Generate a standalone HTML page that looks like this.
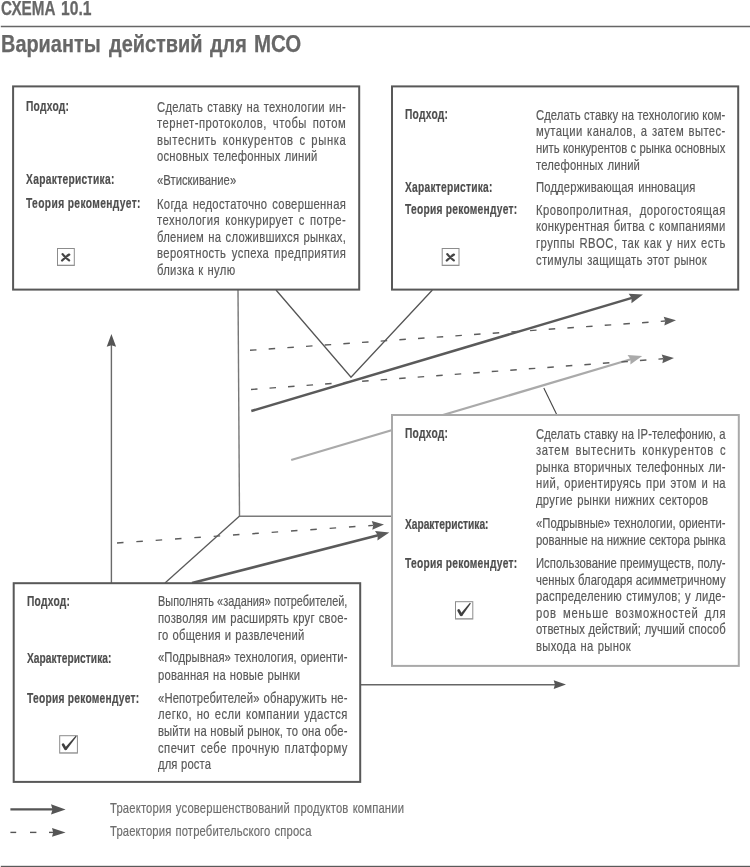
<!DOCTYPE html>
<html><head><meta charset="utf-8"><style>
html,body{margin:0;padding:0;background:#fff;}
body{width:750px;height:867px;position:relative;overflow:hidden;font-family:"Liberation Sans",sans-serif;}
.t{position:absolute;white-space:nowrap;font-size:15px;line-height:16px;color:#595959;transform-origin:0 0;-webkit-text-stroke:0.2px currentColor;}
.b{font-weight:bold;color:#4e4e4e;-webkit-text-stroke:0.2px currentColor;}
#tx{position:absolute;left:0;top:0;width:750px;height:867px;filter:grayscale(1);}
.h1{position:absolute;font-weight:bold;color:#676767;white-space:nowrap;transform-origin:0 0;line-height:normal;-webkit-text-stroke:0.25px currentColor;}
</style></head><body>
<svg width="750" height="867" viewBox="0 0 750 867" style="position:absolute;left:0;top:0"><line x1="0.8" y1="26.5" x2="750" y2="26.5" stroke="#666" stroke-width="1.3"/>
<rect x="0.8" y="865.8" width="750" height="1.2" fill="#5a5a5a"/>
<line x1="238.0" y1="290" x2="239.5" y2="516.3" stroke="#777" stroke-width="1.4"/>
<line x1="239.5" y1="516.3" x2="392" y2="516.3" stroke="#7a7a7a" stroke-width="1.4"/>
<line x1="239.6" y1="516" x2="165" y2="583" stroke="#5a5a5a" stroke-width="1.3"/>
<polyline points="276,290 351,377.2 432.4,290" stroke="#555" stroke-width="1.3" fill="none"/>
<line x1="111.4" y1="583" x2="111.4" y2="344" stroke="#6a6a6a" stroke-width="1.4"/>
<path d="M111.40,334.00 L116.10,346.70 L111.40,345.20 L106.70,346.70 Z" fill="#555"/>
<line x1="543.8" y1="388" x2="556.7" y2="414.5" stroke="#444" stroke-width="1.1"/>
<line x1="291.2" y1="460" x2="630.89" y2="359.26" stroke="#aaa" stroke-width="2.3"/><path d="M642.20,355.90 L630.39,364.62 L630.50,359.37 L627.55,355.03 Z" fill="#aaa"/>
<line x1="251.3" y1="411" x2="631.98" y2="297.88" stroke="#5a5a5a" stroke-width="2.5"/><path d="M643.00,294.60 L631.46,303.14 L631.59,297.99 L628.66,293.75 Z" fill="#5a5a5a"/>
<line x1="192" y1="583" x2="378.16" y2="535.26" stroke="#5a5a5a" stroke-width="2.5"/><path d="M389.30,532.40 L377.44,540.50 L377.77,535.36 L375.01,531.01 Z" fill="#5a5a5a"/>
<line x1="360" y1="684.7" x2="556" y2="684.7" stroke="#666" stroke-width="1.4"/>
<path d="M566.00,684.60 L553.70,689.00 L554.90,684.60 L553.70,680.20 Z" fill="#555"/>
<path d="M250.00,350.30L256.50,349.84M268.67,348.99L275.17,348.53M287.34,347.67L293.84,347.21M306.01,346.36L312.51,345.90M324.68,345.04L331.18,344.58M343.35,343.73L349.85,343.27M362.02,342.41L368.52,341.95M380.69,341.10L387.19,340.64M399.36,339.78L405.86,339.32M418.03,338.47L424.53,338.01M436.70,337.15L443.20,336.69M455.37,335.84L461.87,335.38M474.04,334.52L480.54,334.06M492.71,333.21L499.21,332.75M511.38,331.89L517.88,331.44M530.05,330.58L536.55,330.12M548.72,329.26L555.22,328.81M567.39,327.95L573.89,327.49M586.06,326.63L592.56,326.18M604.73,325.32L611.23,324.86M623.40,324.00L629.90,323.55M642.07,322.69L648.57,322.23M660.74,321.37L665.03,321.07" stroke="#5c5c5c" stroke-width="1.4" fill="none"/><path d="M676.00,320.30 L664.34,325.53 L665.23,321.06 L663.72,316.75 Z" fill="#5c5c5c"/>
<path d="M251.00,389.50L257.50,389.02M269.52,388.12L276.02,387.64M288.04,386.74L294.54,386.26M306.56,385.36L313.06,384.88M325.08,383.98L331.58,383.50M343.60,382.60L350.10,382.12M362.12,381.23L368.62,380.74M380.64,379.85L387.14,379.36M399.16,378.47L405.66,377.98M417.68,377.09L424.18,376.60M436.20,375.71L442.70,375.22M454.72,374.33L461.22,373.85M473.24,372.95L479.74,372.47M491.76,371.57L498.26,371.09M510.28,370.19L516.78,369.71M528.80,368.81L535.30,368.33M547.32,367.43L553.82,366.95M565.84,366.05L572.34,365.57M584.36,364.68L590.86,364.19M602.88,363.30L609.38,362.81M621.40,361.92L627.90,361.43M639.92,360.54L646.42,360.05M658.44,359.16L663.03,358.82" stroke="#5c5c5c" stroke-width="1.4" fill="none"/><path d="M674.00,358.00 L662.36,363.28 L663.23,358.80 L661.71,354.50 Z" fill="#5c5c5c"/>
<path d="M117.00,543.00L123.50,542.55M136.33,541.67L142.83,541.22M155.66,540.34L162.16,539.89M174.99,539.00L181.49,538.56M194.32,537.67L200.82,537.22M213.65,536.34L220.15,535.89M232.98,535.01L239.48,534.56M252.31,533.68L258.81,533.23M271.64,532.34L278.14,531.90M290.97,531.01L297.47,530.56M310.30,529.68L316.80,529.23M329.63,528.35L336.13,527.90M348.96,527.01L355.46,526.57M368.29,525.68L373.03,525.36" stroke="#5c5c5c" stroke-width="1.4" fill="none"/><path d="M384.00,524.60 L372.33,529.81 L373.23,525.34 L371.73,521.04 Z" fill="#5c5c5c"/>
<rect x="13.1" y="86.4" width="346.10" height="203.20" fill="#fff" stroke="#585858" stroke-width="2"/>
<rect x="392" y="86.4" width="346.20" height="203.20" fill="#fff" stroke="#585858" stroke-width="2"/>
<rect x="392" y="415" width="346.80" height="250.90" fill="#fff" stroke="#a9a9a9" stroke-width="2"/>
<rect x="13.7" y="583.2" width="346.50" height="198.70" fill="#fff" stroke="#585858" stroke-width="2"/>
<rect x="57.50" y="248.50" width="16.80" height="17.00" fill="#fff" stroke="#8c8c8c" stroke-width="1"/><line x1="57.50" y1="265.10" x2="74.30" y2="265.10" stroke="#999" stroke-width="0.8"/><path d="M62.60,254.20 Q65.10,257.70 69.10,260.40 M69.20,254.60 Q66.00,256.60 62.10,260.50" stroke="#454545" stroke-width="2.3" stroke-linecap="round" fill="none"/>
<rect x="442.20" y="248.50" width="16.80" height="17.00" fill="#fff" stroke="#8c8c8c" stroke-width="1"/><line x1="442.20" y1="265.10" x2="459.00" y2="265.10" stroke="#999" stroke-width="0.8"/><path d="M447.30,254.20 Q449.80,257.70 453.80,260.40 M453.90,254.60 Q450.70,256.60 446.80,260.50" stroke="#454545" stroke-width="2.3" stroke-linecap="round" fill="none"/>
<rect x="455.50" y="601.70" width="17.30" height="17.30" fill="#fff" stroke="#8c8c8c" stroke-width="1"/><line x1="455.50" y1="618.60" x2="472.80" y2="618.60" stroke="#999" stroke-width="0.8"/><path d="M458.70,610.50 L461.10,614.80" stroke="#404040" stroke-width="2.7" stroke-linecap="round" fill="none"/><path d="M462.13,615.90 L470.87,603.47 L469.93,602.73 L460.07,614.30 Z" fill="#404040"/>
<rect x="59.70" y="735.70" width="17.70" height="17.40" fill="#fff" stroke="#8c8c8c" stroke-width="1"/><line x1="59.70" y1="752.70" x2="77.40" y2="752.70" stroke="#999" stroke-width="0.8"/><path d="M63.10,744.60 L65.50,748.80" stroke="#404040" stroke-width="2.7" stroke-linecap="round" fill="none"/><path d="M66.50,749.93 L76.66,736.48 L75.74,735.72 L64.50,748.27 Z" fill="#404040"/>
<line x1="10.4" y1="809.4" x2="54" y2="809.4" stroke="#555" stroke-width="2.4"/>
<path d="M65.60,809.40 L51.00,814.60 L52.50,809.40 L51.00,804.20 Z" fill="#555"/>
<line x1="10.4" y1="832.4" x2="16.2" y2="832.4" stroke="#555" stroke-width="1.4"/>
<line x1="30" y1="832.4" x2="36.4" y2="832.4" stroke="#555" stroke-width="1.4"/>
<line x1="49" y1="832.4" x2="55" y2="832.4" stroke="#555" stroke-width="1.4"/>
<path d="M65.60,832.40 L52.00,836.70 L53.20,832.40 L52.00,828.10 Z" fill="#555"/></svg>
<div id="tx">
<div class="h1" style="left:0.5px;top:-3.1px;font-size:19.5px;transform:scaleX(0.781)">СХЕМА</div>
<div class="h1" style="left:60.5px;top:-3.1px;font-size:19.5px;transform:scaleX(0.804)">10.1</div>
<div class="h1" style="left:0.7px;top:30.8px;font-size:23.5px;transform:scaleX(0.8472)">Варианты</div>
<div class="h1" style="left:108.5px;top:30.8px;font-size:23.5px;transform:scaleX(0.8472)">действий</div>
<div class="h1" style="left:209.97px;top:30.8px;font-size:23.5px;transform:scaleX(0.8450)">для</div>
<div class="h1" style="left:254.3px;top:30.8px;font-size:23.5px;transform:scaleX(0.8712)">МСО</div>
<div class="t b" style="left:25.6px;top:98.43px;font-size:15.5px;transform:scaleX(0.66);letter-spacing:0.394px">Подход:</div>
<div class="t b" style="left:25.6px;top:171.43px;font-size:15.5px;transform:scaleX(0.66);letter-spacing:0.473px">Характеристика:</div>
<div class="t b" style="left:25.6px;top:195.43px;font-size:15.5px;transform:scaleX(0.66);letter-spacing:0.579px">Теория рекомендует:</div>
<div class="t" style="left:157.2px;top:98.60px;width:252.10px;transform:scaleX(0.7500);text-align:justify;text-align-last:justify;letter-spacing:0.367px;">Сделать ставку на технологии ин-</div>
<div class="t" style="left:157.2px;top:115.20px;width:252.37px;transform:scaleX(0.7500);text-align:justify;text-align-last:justify;letter-spacing:0.640px;">тернет-протоколов, чтобы потом</div>
<div class="t" style="left:157.2px;top:131.80px;width:252.57px;transform:scaleX(0.7500);text-align:justify;text-align-last:justify;letter-spacing:0.832px;">вытеснить конкурентов с рынка</div>
<div class="t" style="left:157.2px;top:148.40px;width:214.02px;transform:scaleX(0.7500);text-align:justify;text-align-last:justify;letter-spacing:0.283px;">основных телефонных линий</div>
<div class="t" style="left:157.2px;top:171.60px;width:105.78px;transform:scaleX(0.7500);text-align:justify;text-align-last:justify;letter-spacing:0.044px;">«Втискивание»</div>
<div class="t" style="left:157.2px;top:195.60px;width:252.14px;transform:scaleX(0.7500);text-align:justify;text-align-last:justify;letter-spacing:0.409px;">Когда недостаточно совершенная</div>
<div class="t" style="left:157.2px;top:212.20px;width:252.36px;transform:scaleX(0.7500);text-align:justify;text-align-last:justify;letter-spacing:0.625px;">технология конкурирует с потре-</div>
<div class="t" style="left:157.2px;top:228.80px;width:252.09px;transform:scaleX(0.7500);text-align:justify;text-align-last:justify;letter-spacing:0.352px;">блением на сложившихся рынках,</div>
<div class="t" style="left:157.2px;top:245.40px;width:252.27px;transform:scaleX(0.7500);text-align:justify;text-align-last:justify;letter-spacing:0.533px;">вероятность успеха предприятия</div>
<div class="t" style="left:157.2px;top:262.00px;width:104.55px;transform:scaleX(0.7500);text-align:justify;text-align-last:justify;letter-spacing:0.412px;">близка к нулю</div>
<div class="t b" style="left:405.2px;top:106.33px;font-size:15.5px;transform:scaleX(0.66);letter-spacing:0.394px">Подход:</div>
<div class="t b" style="left:405.2px;top:178.93px;font-size:15.5px;transform:scaleX(0.66);letter-spacing:0.373px">Характеристика:</div>
<div class="t b" style="left:405.2px;top:201.43px;font-size:15.5px;transform:scaleX(0.66);letter-spacing:0.377px">Теория рекомендует:</div>
<div class="t" style="left:536.0px;top:106.50px;width:252.50px;transform:scaleX(0.7500);text-align:justify;text-align-last:justify;letter-spacing:0.100px;">Сделать ставку на технологию ком-</div>
<div class="t" style="left:536.0px;top:123.17px;width:252.93px;transform:scaleX(0.7500);text-align:justify;text-align-last:justify;letter-spacing:0.531px;">мутации каналов, а затем вытес-</div>
<div class="t" style="left:536.0px;top:139.84px;width:252.44px;transform:scaleX(0.7500);text-align:justify;text-align-last:justify;letter-spacing:0.043px;">нить конкурентов с рынка основных</div>
<div class="t" style="left:536.0px;top:156.51px;width:138.78px;transform:scaleX(0.7500);text-align:justify;text-align-last:justify;letter-spacing:0.250px;">телефонных линий</div>
<div class="t" style="left:536.0px;top:179.10px;width:212.60px;transform:scaleX(0.7500);text-align:justify;text-align-last:justify;letter-spacing:0.200px;">Поддерживающая инновация</div>
<div class="t" style="left:536.0px;top:201.60px;width:253.01px;transform:scaleX(0.7500);text-align:justify;text-align-last:justify;letter-spacing:0.606px;">Кровопролитная, дорогостоящая</div>
<div class="t" style="left:536.0px;top:218.27px;width:252.73px;transform:scaleX(0.7500);text-align:justify;text-align-last:justify;letter-spacing:0.328px;">конкурентная битва с компаниями</div>
<div class="t" style="left:536.0px;top:234.94px;width:253.05px;transform:scaleX(0.7500);text-align:justify;text-align-last:justify;letter-spacing:0.653px;">группы RBOC, так как у них есть</div>
<div class="t" style="left:536.0px;top:251.61px;width:228.11px;transform:scaleX(0.7500);text-align:justify;text-align-last:justify;letter-spacing:0.379px;">стимулы защищать этот рынок</div>
<div class="t b" style="left:405.2px;top:425.43px;font-size:15.5px;transform:scaleX(0.66);letter-spacing:0.394px">Подход:</div>
<div class="t b" style="left:405.2px;top:515.53px;font-size:15.5px;transform:scaleX(0.66);letter-spacing:-0.062px">Характеристика:</div>
<div class="t b" style="left:405.2px;top:554.83px;font-size:15.5px;transform:scaleX(0.66);letter-spacing:0.377px">Теория рекомендует:</div>
<div class="t" style="left:536.0px;top:425.60px;width:252.89px;transform:scaleX(0.7500);text-align:justify;text-align-last:justify;letter-spacing:0.094px;">Сделать ставку на IP-телефонию, а</div>
<div class="t" style="left:536.0px;top:442.20px;width:253.73px;transform:scaleX(0.7500);text-align:justify;text-align-last:justify;letter-spacing:0.925px;">затем вытеснить конкурентов с</div>
<div class="t" style="left:536.0px;top:458.80px;width:253.18px;transform:scaleX(0.7500);text-align:justify;text-align-last:justify;letter-spacing:0.377px;">рынка вторичных телефонных ли-</div>
<div class="t" style="left:536.0px;top:475.40px;width:253.41px;transform:scaleX(0.7500);text-align:justify;text-align-last:justify;letter-spacing:0.608px;">ний, ориентируясь при этом и на</div>
<div class="t" style="left:536.0px;top:492.00px;width:229.88px;transform:scaleX(0.7500);text-align:justify;text-align-last:justify;letter-spacing:0.413px;">другие рынки нижних секторов</div>
<div class="t" style="left:536.0px;top:515.20px;width:252.84px;transform:scaleX(0.7500);text-align:justify;text-align-last:justify;letter-spacing:0.040px;">«Подрывные» технологии, ориенти-</div>
<div class="t" style="left:536.0px;top:531.80px;width:252.86px;transform:scaleX(0.7500);text-align:justify;text-align-last:justify;letter-spacing:0.057px;">рованные на нижние сектора рынка</div>
<div class="t" style="left:536.0px;top:555.00px;width:252.84px;transform:scaleX(0.7500);text-align:justify;text-align-last:justify;letter-spacing:0.042px;">Использование преимуществ, полу-</div>
<div class="t" style="left:536.0px;top:571.60px;width:252.88px;transform:scaleX(0.7500);text-align:justify;text-align-last:justify;letter-spacing:0.081px;">ченных благодаря асимметричному</div>
<div class="t" style="left:536.0px;top:588.20px;width:253.14px;transform:scaleX(0.7500);text-align:justify;text-align-last:justify;letter-spacing:0.338px;">распределению стимулов; у лиде-</div>
<div class="t" style="left:536.0px;top:604.80px;width:253.84px;transform:scaleX(0.7500);text-align:justify;text-align-last:justify;letter-spacing:1.038px;">ров меньше возможностей для</div>
<div class="t" style="left:536.0px;top:621.40px;width:252.95px;transform:scaleX(0.7500);text-align:justify;text-align-last:justify;letter-spacing:0.149px;">ответных действий; лучший способ</div>
<div class="t" style="left:536.0px;top:638.00px;width:126.83px;transform:scaleX(0.7500);text-align:justify;text-align-last:justify;letter-spacing:0.426px;">выхода на рынок</div>
<div class="t b" style="left:26.7px;top:593.13px;font-size:15.5px;transform:scaleX(0.66);letter-spacing:0.394px">Подход:</div>
<div class="t b" style="left:26.7px;top:649.53px;font-size:15.5px;transform:scaleX(0.66);letter-spacing:0.050px">Характеристика:</div>
<div class="t b" style="left:26.7px;top:689.63px;font-size:15.5px;transform:scaleX(0.66);letter-spacing:0.377px">Теория рекомендует:</div>
<div class="t" style="left:157.8px;top:593.30px;width:260.85px;transform:scaleX(0.7262);text-align:justify;text-align-last:justify;letter-spacing:0.031px;">Выполнять «задания» потребителей,</div>
<div class="t" style="left:157.8px;top:609.90px;width:252.85px;transform:scaleX(0.7500);text-align:justify;text-align-last:justify;letter-spacing:0.313px;">позволяя им расширять круг свое-</div>
<div class="t" style="left:157.8px;top:626.50px;width:195.38px;transform:scaleX(0.7500);text-align:justify;text-align-last:justify;letter-spacing:0.315px;">го общения и развлечений</div>
<div class="t" style="left:157.8px;top:649.30px;width:252.64px;transform:scaleX(0.7500);text-align:justify;text-align-last:justify;letter-spacing:0.105px;">«Подрывная» технология, ориенти-</div>
<div class="t" style="left:157.8px;top:666.50px;width:189.75px;transform:scaleX(0.7500);text-align:justify;text-align-last:justify;letter-spacing:0.287px;">рованная на новые рынки</div>
<div class="t" style="left:157.8px;top:689.80px;width:252.73px;transform:scaleX(0.7500);text-align:justify;text-align-last:justify;letter-spacing:0.194px;">«Непотребителей» обнаружить не-</div>
<div class="t" style="left:157.8px;top:706.40px;width:253.12px;transform:scaleX(0.7500);text-align:justify;text-align-last:justify;letter-spacing:0.591px;">легко, но если компании удастся</div>
<div class="t" style="left:157.8px;top:723.00px;width:252.73px;transform:scaleX(0.7500);text-align:justify;text-align-last:justify;letter-spacing:0.192px;">выйти на новый рынок, то она обе-</div>
<div class="t" style="left:157.8px;top:739.60px;width:253.15px;transform:scaleX(0.7500);text-align:justify;text-align-last:justify;letter-spacing:0.617px;">спечит себе прочную платформу</div>
<div class="t" style="left:157.8px;top:756.20px;width:70.82px;transform:scaleX(0.7500);text-align:justify;text-align-last:justify;letter-spacing:0.156px;">для роста</div>
<div class="t" style="left:109.8px;top:800.20px;width:392.22px;transform:scaleX(0.7500);text-align:justify;text-align-last:justify;letter-spacing:0.224px;color:#6e6e6e;">Траектория усовершенствований продуктов компании</div>
<div class="t" style="left:109.8px;top:822.60px;width:268.73px;transform:scaleX(0.7500);text-align:justify;text-align-last:justify;letter-spacing:0.193px;color:#6e6e6e;">Траектория потребительского спроса</div>
</div>
</body></html>
